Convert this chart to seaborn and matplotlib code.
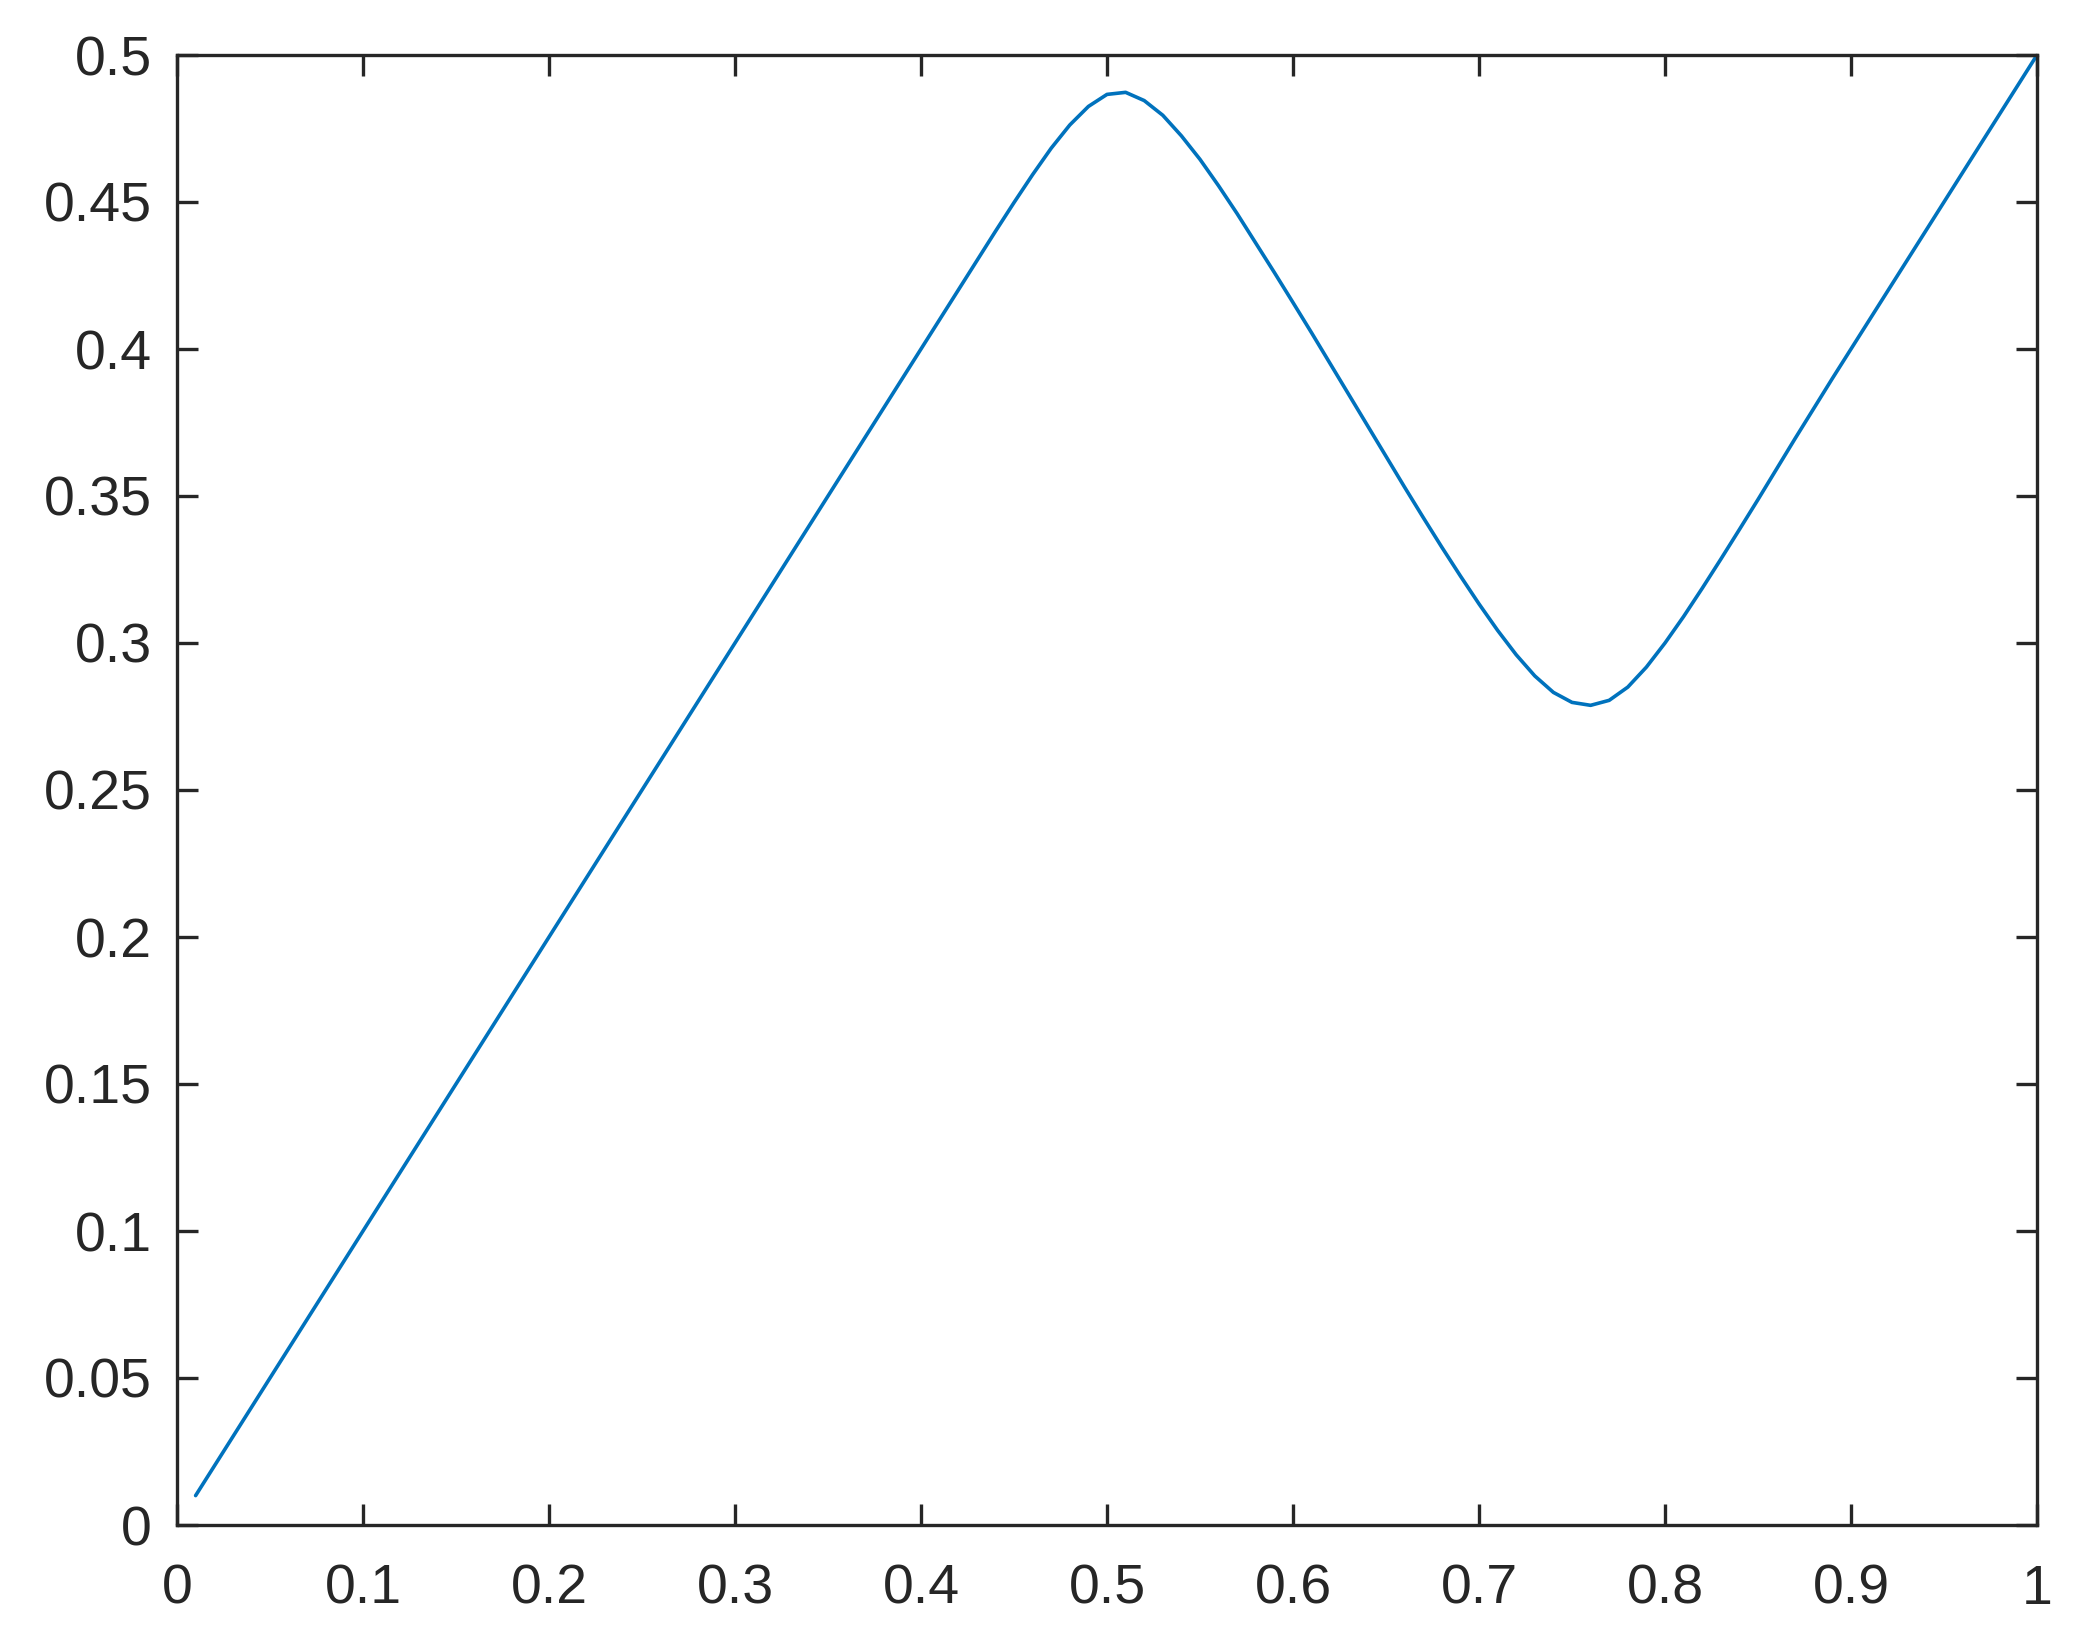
import numpy as np
import pandas as pd
import matplotlib
matplotlib.use("Agg")
import matplotlib.pyplot as plt
from matplotlib.ticker import FormatStrFormatter, MultipleLocator
import seaborn as sns

# sample points along x (step 0.01)
x_vals = np.round(np.arange(1, 101) * 0.01, 2)

# curve values
y_vals = [
    0.01, 0.02, 0.03, 0.04, 0.05, 0.06, 0.07, 0.08, 0.09, 0.10,
    0.11, 0.12, 0.13, 0.14, 0.15, 0.16, 0.17, 0.18, 0.19, 0.20,
    0.21, 0.22, 0.23, 0.24, 0.25, 0.26, 0.27, 0.28, 0.29, 0.30,
    0.31, 0.32, 0.33, 0.34, 0.35, 0.36, 0.37, 0.38, 0.39, 0.40,
    0.41, 0.42, 0.43, 0.44, 0.4498, 0.4593, 0.4683, 0.4762, 0.4825, 0.4866,
    0.4873, 0.4845, 0.4795, 0.4725, 0.4645, 0.4555, 0.4460, 0.4360, 0.4260, 0.4158,
    0.4055, 0.3950, 0.3845, 0.3740, 0.3635, 0.3530, 0.3427, 0.3326, 0.3228, 0.3133,
    0.3043, 0.2960, 0.2888, 0.2832, 0.2798, 0.2788, 0.2805, 0.2850, 0.2918, 0.3000,
    0.3090, 0.3186, 0.3285, 0.3386, 0.3488, 0.3592, 0.3696, 0.3798, 0.3900, 0.40,
    0.41, 0.42, 0.43, 0.44, 0.45, 0.46, 0.47, 0.48, 0.49, 0.50,
]

df = pd.DataFrame({"x": x_vals, "y": y_vals})

sns.set_theme(style="ticks")
plt.rcParams['font.family'] = ['Liberation Sans', 'DejaVu Sans']
dark = "#262626"

fig = plt.figure(figsize=(10.42, 8.24), dpi=200)
fig.subplots_adjust(left=177/2084, right=2037/2084, bottom=1-1525/1648, top=1-55/1648)
ax = fig.add_subplot(111)

sns.lineplot(data=df, x="x", y="y", ax=ax, color="#0072BD", linewidth=1.3)

ax.set_xlim(0, 1)
ax.set_ylim(0, 0.5)
ax.xaxis.set_major_locator(MultipleLocator(0.1))
ax.yaxis.set_major_locator(MultipleLocator(0.05))
ax.xaxis.set_major_formatter(FormatStrFormatter('%g'))
ax.yaxis.set_major_formatter(FormatStrFormatter('%g'))
ax.set_xlabel("")
ax.set_ylabel("")

for side in ax.spines.values():
    side.set_color(dark)
    side.set_linewidth(1.2)
ax.tick_params(axis="both", direction="in", length=7.5, width=1.2, color=dark,
               labelcolor=dark, labelsize=20, top=True, right=True)
ax.tick_params(axis="x", pad=14)
ax.tick_params(axis="y", pad=9)

fig.savefig("out.png", dpi=200, facecolor="white")
